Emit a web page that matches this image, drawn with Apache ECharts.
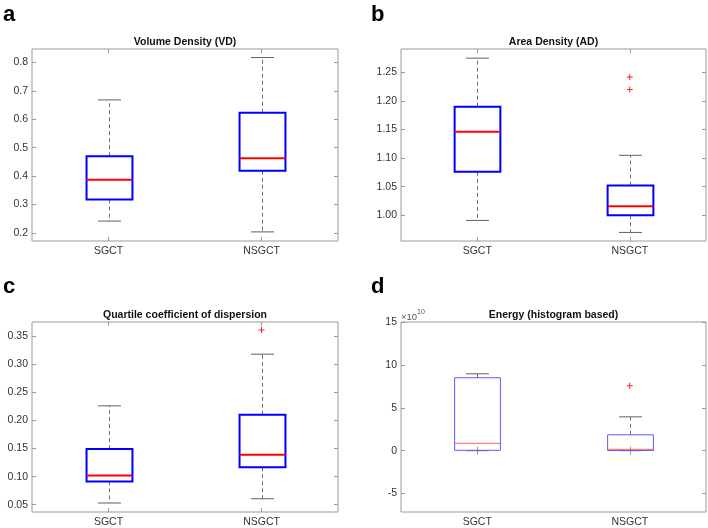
<!DOCTYPE html>
<html><head><meta charset="utf-8">
<script src="https://cdn.jsdelivr.net/npm/echarts@6/dist/echarts.min.js"></script>
<style>html,body{margin:0;padding:0;background:#fff}#c{width:708px;height:528px}</style>
</head><body><div id="c"></div>
<script>
const categories = ['SGCT', 'NSGCT'];
// each box: [whisker min, Q1, median, Q3, whisker max]
const vdBoxes = [[0.242, 0.318, 0.387, 0.470, 0.668], [0.204, 0.419, 0.463, 0.623, 0.817]];
const vdOutliers = [];
const adBoxes = [[0.991, 1.076, 1.146, 1.190, 1.275], [0.970, 1.000, 1.016, 1.052, 1.105]];
const adOutliers = [[1, 1.220], [1, 1.242]];
const qcdBoxes = [[0.053, 0.0915, 0.102, 0.149, 0.226], [0.0606, 0.1167, 0.139, 0.210, 0.318]];
const qcdOutliers = [[1, 0.361]];
// energy in units of 1e10
const energyBoxes = [[0.0, 0.04, 0.86, 8.50, 8.96], [0.0, 0.02, 0.16, 1.85, 3.94]];
const energyOutliers = [[1, 7.57]];
const vdTicks = [0.2, 0.3, 0.4, 0.5, 0.6, 0.7, 0.8];
const adTicks = [1.00, 1.05, 1.10, 1.15, 1.20, 1.25];
const qcdTicks = [0.05, 0.10, 0.15, 0.20, 0.25, 0.30, 0.35];
const energyTicks = [-5, 0, 5, 10, 15];
const titles = ['Volume Density (VD)', 'Area Density (AD)', 'Quartile coefficient of dispersion', 'Energy (histogram based)'];
const letters = ['a', 'b', 'c', 'd'];

const FONT = "'Liberation Sans', Arial, Helvetica, sans-serif";
const panels = [
  {boxes: vdBoxes, outliers: vdOutliers, ticks: vdTicks, ext: [0.172, 0.847], dec: 1,
   grid: {left: 32, top: 49, width: 306, height: 192}, lw: 2, box: '#0000ff', med: '#ff0000'},
  {boxes: adBoxes, outliers: adOutliers, ticks: adTicks, ext: [0.955, 1.291], dec: 2,
   grid: {left: 401, top: 49, width: 305, height: 192}, lw: 2, box: '#0000ff', med: '#ff0000'},
  {boxes: qcdBoxes, outliers: qcdOutliers, ticks: qcdTicks, ext: [0.037, 0.3753], dec: 2,
   grid: {left: 32, top: 322, width: 306, height: 191}, lw: 2, box: '#0000ff', med: '#ff0000'},
  {boxes: energyBoxes, outliers: energyOutliers, ticks: energyTicks, ext: [-7.15, 15], dec: 0,
   grid: {left: 401, top: 322, width: 305, height: 191}, lw: 1, box: '#5a5aff', med: '#ff6060'}
];

function boxRender(p) {
  return function (params, api) {
    const i = api.value(0);
    const c = api.coord([i, api.value(3)]);
    const x = Math.round(c[0]) + 0.5;
    const band = api.size([1, 0])[0];
    const bw = band * 0.3, cw = band * 0.15;
    const yMin = api.coord([i, api.value(1)])[1];
    const yQ1 = api.coord([i, api.value(2)])[1];
    const yMed = c[1];
    const yQ3 = api.coord([i, api.value(4)])[1];
    const yMax = api.coord([i, api.value(5)])[1];
    const wh = {stroke: '#707070', lineWidth: 1, lineDash: [4, 3], fill: null};
    const cap = {stroke: '#606060', lineWidth: 1, fill: null};
    return {type: 'group', children: [
      {type: 'line', shape: {x1: x, y1: yQ3, x2: x, y2: yMax}, style: wh},
      {type: 'line', shape: {x1: x, y1: yQ1, x2: x, y2: yMin}, style: wh},
      {type: 'line', shape: {x1: x - cw / 2, y1: yMax, x2: x + cw / 2, y2: yMax}, style: cap},
      {type: 'line', shape: {x1: x - cw / 2, y1: yMin, x2: x + cw / 2, y2: yMin}, style: cap},
      {type: 'rect', shape: {x: x - bw / 2, y: yQ3, width: bw, height: yQ1 - yQ3},
       style: {fill: null, stroke: p.box, lineWidth: p.lw}},
      {type: 'line', shape: {x1: x - bw / 2, y1: yMed, x2: x + bw / 2, y2: yMed},
       style: {stroke: p.med, lineWidth: p.lw}}
    ]};
  };
}
function plusRender(params, api) {
  const c = api.coord([api.value(0), api.value(1)]);
  const s = 3;
  const st = {stroke: '#ff2020', lineWidth: 1};
  return {type: 'group', children: [
    {type: 'line', shape: {x1: c[0] - s, y1: c[1], x2: c[0] + s, y2: c[1]}, style: st},
    {type: 'line', shape: {x1: c[0], y1: c[1] - s, x2: c[0], y2: c[1] + s}, style: st}
  ]};
}

const grid = [], xAxis = [], yAxis = [], series = [], title = [];
panels.forEach((p, k) => {
  grid.push(Object.assign({show: true, borderColor: '#9a9a9a', borderWidth: 1, backgroundColor: '#fff'}, p.grid));
  const tickStyle = {show: true, inside: true, length: 4, lineStyle: {color: '#9a9a9a'}};
  xAxis.push({type: 'category', gridIndex: k, data: categories, position: 'bottom',
    axisLine: {show: false}, axisTick: Object.assign({alignWithLabel: true}, tickStyle),
    axisLabel: {color: '#333', fontSize: 10.5, fontFamily: FONT, margin: 5}, splitLine: {show: false}});
  xAxis.push({type: 'category', gridIndex: k, data: categories, position: 'top',
    axisLine: {show: false}, axisTick: Object.assign({alignWithLabel: true}, tickStyle),
    axisLabel: {show: false}, splitLine: {show: false}});
  yAxis.push({type: 'value', gridIndex: k, min: p.ext[0], max: p.ext[1], position: 'left',
    axisLine: {show: false}, splitLine: {show: false},
    axisTick: Object.assign({customValues: p.ticks}, tickStyle),
    axisLabel: {customValues: p.ticks, color: '#333', fontSize: 10.5, fontFamily: FONT, margin: 4,
      formatter: v => Number(v).toFixed(p.dec)}});
  yAxis.push({type: 'value', gridIndex: k, min: p.ext[0], max: p.ext[1], position: 'right',
    axisLine: {show: false}, splitLine: {show: false},
    axisTick: Object.assign({customValues: p.ticks}, tickStyle),
    axisLabel: {show: false}});
  series.push({type: 'custom', xAxisIndex: 2 * k, yAxisIndex: 2 * k,
    data: p.boxes.map((b, i) => [i].concat(b)),
    encode: {x: 0, y: [1, 2, 3, 4, 5]}, renderItem: boxRender(p), silent: true, z: 3});
  if (p.outliers.length) {
    series.push({type: 'custom', xAxisIndex: 2 * k, yAxisIndex: 2 * k,
      data: p.outliers, encode: {x: 0, y: 1}, renderItem: plusRender, silent: true, z: 4});
  }
  const cx = p.grid.left + p.grid.width / 2;
  title.push({text: titles[k], left: cx, top: p.grid.top - 13, textAlign: 'center', padding: 0,
    textStyle: {fontSize: 10.5, fontWeight: 'bold', color: '#111', fontFamily: FONT, lineHeight: 12}});
  title.push({text: letters[k], left: p.grid.left < 100 ? 3 : 371, top: p.grid.top < 100 ? 3 : 275, padding: 0,
    textStyle: {fontSize: 22, fontWeight: 'bold', color: '#000', fontFamily: FONT, lineHeight: 24}});
});

const chart = echarts.init(document.getElementById('c'), null, {renderer: 'canvas'});
chart.setOption({
  animation: false,
  backgroundColor: '#fff',
  title, grid, xAxis, yAxis, series,
  graphic: [{type: 'text', left: 401, top: 309,
    style: {text: '{a|×10}{b|10}', rich: {
      a: {fontSize: 9.5, fill: '#555', fontFamily: FONT, verticalAlign: 'bottom'},
      b: {fontSize: 7, fill: '#555', fontFamily: FONT, verticalAlign: 'top', padding: [0, 0, 6, 0]}}}}]
});
</script></body></html>
